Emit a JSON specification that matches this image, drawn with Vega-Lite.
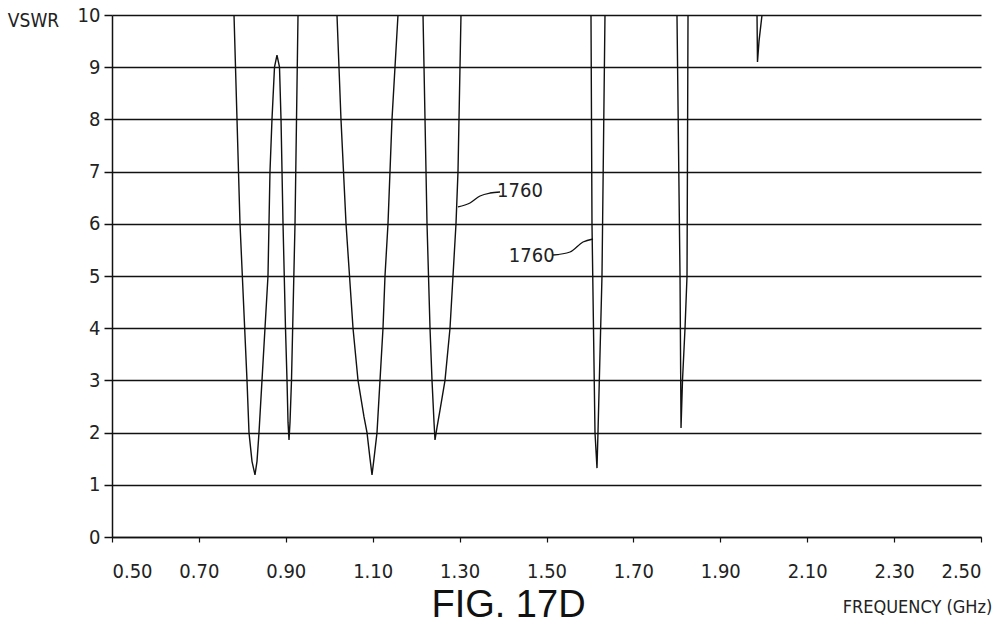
{
  "$schema": "https://vega.github.io/schema/vega-lite/v6.json",
  "autosize": "none",
  "width": 869,
  "height": 522,
  "padding": {"left": 112, "top": 15, "right": 23, "bottom": 87},
  "background": "white",
  "config": {
    "view": {"stroke": null},
    "font": "DejaVu Sans Condensed, Liberation Sans, sans-serif",
    "text": {"font": "DejaVu Sans Condensed, Liberation Sans, sans-serif"}
  },
  "title": {
    "text": "FIG. 17D",
    "orient": "bottom",
    "anchor": "middle",
    "frame": "group",
    "dx": -38,
    "dy": -33,
    "fontSize": 38,
    "fontWeight": "normal",
    "font": "Liberation Sans, sans-serif",
    "color": "#111"
  },
  "datasets": {
    "curve": [
      {"seg": "A", "f": 0.7808, "vswr": 10},
      {"seg": "A", "f": 0.7946, "vswr": 6},
      {"seg": "A", "f": 0.8107, "vswr": 3},
      {"seg": "A", "f": 0.8153, "vswr": 2},
      {"seg": "A", "f": 0.8222, "vswr": 1.45},
      {"seg": "A", "f": 0.8291, "vswr": 1.19},
      {"seg": "A", "f": 0.8337, "vswr": 1.45},
      {"seg": "A", "f": 0.8383, "vswr": 2},
      {"seg": "A", "f": 0.8452, "vswr": 3},
      {"seg": "A", "f": 0.859, "vswr": 5},
      {"seg": "A", "f": 0.8636, "vswr": 7},
      {"seg": "A", "f": 0.8682, "vswr": 8},
      {"seg": "A", "f": 0.874, "vswr": 9},
      {"seg": "A", "f": 0.8797, "vswr": 9.23},
      {"seg": "A", "f": 0.8855, "vswr": 9},
      {"seg": "A", "f": 0.889, "vswr": 8},
      {"seg": "A", "f": 0.8936, "vswr": 6},
      {"seg": "A", "f": 0.8993, "vswr": 4},
      {"seg": "A", "f": 0.9028, "vswr": 3},
      {"seg": "A", "f": 0.9051, "vswr": 2.2},
      {"seg": "A", "f": 0.9074, "vswr": 1.86},
      {"seg": "A", "f": 0.9097, "vswr": 2.2},
      {"seg": "A", "f": 0.9131, "vswr": 3},
      {"seg": "A", "f": 0.9212, "vswr": 6},
      {"seg": "A", "f": 0.9281, "vswr": 10},
      {"seg": "B", "f": 1.0178, "vswr": 10},
      {"seg": "B", "f": 1.027, "vswr": 8},
      {"seg": "B", "f": 1.0386, "vswr": 6},
      {"seg": "B", "f": 1.0547, "vswr": 4},
      {"seg": "B", "f": 1.0662, "vswr": 3},
      {"seg": "B", "f": 1.08, "vswr": 2.3},
      {"seg": "B", "f": 1.0869, "vswr": 2},
      {"seg": "B", "f": 1.0938, "vswr": 1.5},
      {"seg": "B", "f": 1.0984, "vswr": 1.19},
      {"seg": "B", "f": 1.103, "vswr": 1.5},
      {"seg": "B", "f": 1.1099, "vswr": 2},
      {"seg": "B", "f": 1.1168, "vswr": 3},
      {"seg": "B", "f": 1.1237, "vswr": 4},
      {"seg": "B", "f": 1.1283, "vswr": 5},
      {"seg": "B", "f": 1.1352, "vswr": 6},
      {"seg": "B", "f": 1.1444, "vswr": 8},
      {"seg": "B", "f": 1.1582, "vswr": 10},
      {"seg": "C", "f": 1.2158, "vswr": 10},
      {"seg": "C", "f": 1.225, "vswr": 6},
      {"seg": "C", "f": 1.2319, "vswr": 4},
      {"seg": "C", "f": 1.2365, "vswr": 3},
      {"seg": "C", "f": 1.2411, "vswr": 2.2},
      {"seg": "C", "f": 1.2434, "vswr": 1.86},
      {"seg": "C", "f": 1.248, "vswr": 2.1},
      {"seg": "C", "f": 1.2549, "vswr": 2.43},
      {"seg": "C", "f": 1.2664, "vswr": 3},
      {"seg": "C", "f": 1.2779, "vswr": 4},
      {"seg": "C", "f": 1.2848, "vswr": 5},
      {"seg": "C", "f": 1.2917, "vswr": 6},
      {"seg": "C", "f": 1.2963, "vswr": 7},
      {"seg": "C", "f": 1.3009, "vswr": 9},
      {"seg": "C", "f": 1.3032, "vswr": 10},
      {"seg": "D", "f": 1.6024, "vswr": 10},
      {"seg": "D", "f": 1.6047, "vswr": 6},
      {"seg": "D", "f": 1.6116, "vswr": 2},
      {"seg": "D", "f": 1.6162, "vswr": 1.32},
      {"seg": "D", "f": 1.6185, "vswr": 2},
      {"seg": "D", "f": 1.6277, "vswr": 5},
      {"seg": "D", "f": 1.6346, "vswr": 10},
      {"seg": "E", "f": 1.8003, "vswr": 10},
      {"seg": "E", "f": 1.8073, "vswr": 5},
      {"seg": "E", "f": 1.8096, "vswr": 2.09},
      {"seg": "E", "f": 1.813, "vswr": 3},
      {"seg": "E", "f": 1.8188, "vswr": 4},
      {"seg": "E", "f": 1.8234, "vswr": 5},
      {"seg": "E", "f": 1.8257, "vswr": 10},
      {"seg": "F", "f": 1.9845, "vswr": 10},
      {"seg": "F", "f": 1.9856, "vswr": 9.1},
      {"seg": "F", "f": 1.9891, "vswr": 9.5},
      {"seg": "F", "f": 1.996, "vswr": 10}
    ],
    "leaders": [
      {"id": 1, "f": 1.2963, "vswr": 6.322},
      {"id": 1, "f": 1.3239, "vswr": 6.398},
      {"id": 1, "f": 1.347, "vswr": 6.533},
      {"id": 1, "f": 1.37, "vswr": 6.59},
      {"id": 1, "f": 1.393, "vswr": 6.609},
      {"id": 2, "f": 1.515, "vswr": 5.402},
      {"id": 2, "f": 1.5541, "vswr": 5.46},
      {"id": 2, "f": 1.584, "vswr": 5.651},
      {"id": 2, "f": 1.607, "vswr": 5.709}
    ],
    "labels": [
      {"f": 1.439, "vswr": 6.628, "label": "1760"},
      {"f": 1.466, "vswr": 5.383, "label": "1760"}
    ]
  },
  "encoding": {
    "x": {
      "field": "f",
      "type": "quantitative",
      "scale": {"domain": [0.5, 2.5], "nice": false, "zero": false},
      "axis": {
        "values": [0.5, 0.7, 0.9, 1.1, 1.3, 1.5, 1.7, 1.9, 2.1, 2.3, 2.5],
        "format": ".2f",
        "grid": false,
        "domainColor": "#111",
        "domainWidth": 1.5,
        "tickColor": "#111",
        "tickSize": 5,
        "tickWidth": 1.2,
        "labelFontSize": 20,
        "labelColor": "#222",
        "labelPadding": 19,
        "title": "FREQUENCY (GHz)",
        "titleFontSize": 18,
        "titleFontWeight": "normal",
        "titleColor": "#222",
        "titleAnchor": null,
        "titleAlign": "center",
        "titleBaseline": "middle",
        "titleX": 805,
        "titleY": 70
      }
    },
    "y": {
      "field": "vswr",
      "type": "quantitative",
      "scale": {"domain": [0, 10], "nice": false},
      "axis": {
        "values": [0, 1, 2, 3, 4, 5, 6, 7, 8, 9, 10],
        "grid": true,
        "gridColor": "#111",
        "gridWidth": 1.5,
        "gridOpacity": 1,
        "domainColor": "#111",
        "domainWidth": 1.5,
        "tickColor": "#111",
        "tickSize": 8,
        "tickWidth": 1.5,
        "labelFontSize": 20,
        "labelColor": "#222",
        "labelPadding": 4,
        "title": "VSWR",
        "titleFontSize": 19,
        "titleFontWeight": "normal",
        "titleColor": "#222",
        "titleAngle": 0,
        "titleAnchor": null,
        "titleAlign": "center",
        "titleBaseline": "middle",
        "titleX": -79,
        "titleY": 5
      }
    }
  },
  "layer": [
    {
      "data": {"name": "curve"},
      "mark": {"type": "line", "color": "#111", "strokeWidth": 1.4, "clip": true},
      "encoding": {"detail": {"field": "seg", "type": "nominal"}}
    },
    {
      "data": {"name": "leaders"},
      "mark": {"type": "line", "color": "#111", "strokeWidth": 1.3, "interpolate": "monotone"},
      "encoding": {"detail": {"field": "id", "type": "nominal"}}
    },
    {
      "data": {"name": "labels"},
      "mark": {"type": "text", "fontSize": 20, "color": "#222", "align": "center", "baseline": "middle"},
      "encoding": {"text": {"field": "label", "type": "nominal"}}
    }
  ]
}
